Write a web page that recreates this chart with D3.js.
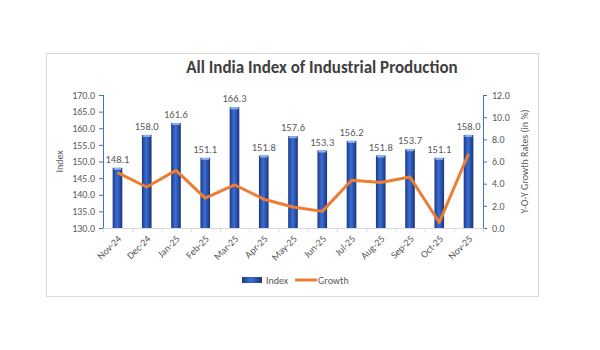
<!DOCTYPE html>
<html>
<head>
<meta charset="utf-8">
<script src="https://cdn.jsdelivr.net/npm/d3@7"></script>
<style>
  body { margin: 0; background: #fff; }
  text { font-family: Calibri, Carlito, "Open Sans", sans-serif; }
</style>
</head>
<body>
<script>
var months = ["Nov-24","Dec-24","Jan-25","Feb-25","Mar-25","Apr-25","May-25","Jun-25","Jul-25","Aug-25","Sep-25","Oct-25","Nov-25"];
var indexValues = [148.1,158.0,161.6,151.1,166.3,151.8,157.6,153.3,156.2,151.8,153.7,151.1,158.0];
var growthValues = [5.0,3.7,5.2,2.7,3.9,2.6,1.9,1.5,4.3,4.1,4.6,0.5,6.7];
var leftTicks = [130,135,140,145,150,155,160,165,170];
var rightTicks = [0,2,4,6,8,10,12];

var W = 600, H = 350;
var margin = {top: 95, right: 117, bottom: 122, left: 103};
var width = W - margin.left - margin.right,
    height = H - margin.top - margin.bottom;

var svg = d3.select("body").append("svg")
  .attr("width", W).attr("height", H);

// chart frame
svg.append("rect")
  .attr("x", 46.5).attr("y", 53.5).attr("width", 492).attr("height", 243)
  .attr("fill", "#fff").attr("stroke", "#d9d9d9");

var defs = svg.append("defs");
var grad = defs.append("linearGradient").attr("id", "barGrad")
  .attr("x1", "0%").attr("x2", "100%").attr("y1", "0%").attr("y2", "0%");
grad.append("stop").attr("offset", "0%").attr("stop-color", "#1c3a86");
grad.append("stop").attr("offset", "45%").attr("stop-color", "#3b6fd6");
grad.append("stop").attr("offset", "100%").attr("stop-color", "#1a3478");

svg.append("text")
  .attr("x", 322).attr("y", 73)
  .attr("text-anchor", "middle")
  .attr("font-size", 17).attr("font-weight", "bold")
  .attr("fill", "#404040")
  .text("All India Index of Industrial Production");

var g = svg.append("g").attr("transform", "translate(" + margin.left + "," + margin.top + ")");

var x = d3.scaleBand().domain(months).range([0, width]).paddingInner(0.67).paddingOuter(0.33);
var y = d3.scaleLinear().domain([130, 170]).range([height, 0]);
var y2 = d3.scaleLinear().domain([0, 12]).range([height, 0]);

// bars
g.selectAll(".bar").data(indexValues).enter().append("rect")
  .attr("class", "bar")
  .attr("x", function(d, i) { return x(months[i]); })
  .attr("y", function(d) { return y(d); })
  .attr("width", x.bandwidth())
  .attr("height", function(d) { return height - y(d); })
  .attr("fill", "url(#barGrad)");

// top highlight of bars
g.selectAll(".cap").data(indexValues).enter().append("rect")
  .attr("x", function(d, i) { return x(months[i]) + 1; })
  .attr("y", function(d) { return y(d); })
  .attr("width", x.bandwidth() - 2)
  .attr("height", 2)
  .attr("fill", "#8fb3f0");

// bar labels
g.selectAll(".lbl").data(indexValues).enter().append("text")
  .attr("x", function(d, i) { return x(months[i]) + x.bandwidth() / 2; })
  .attr("y", function(d) { return y(d) - 5; })
  .attr("text-anchor", "middle")
  .attr("font-size", 10.5)
  .attr("fill", "#595959")
  .text(function(d) { return d.toFixed(1); });

// growth line
var line = d3.line()
  .x(function(d, i) { return x(months[i]) + x.bandwidth() / 2; })
  .y(function(d) { return y2(d); });
g.append("path").datum(growthValues)
  .attr("d", line)
  .attr("fill", "none")
  .attr("stroke", "#ed7d31")
  .attr("stroke-width", 3)
  .attr("stroke-linejoin", "round");

// left axis
var yAxis = g.append("g")
  .call(d3.axisLeft(y).tickValues(leftTicks).tickSize(4).tickFormat(d3.format(".1f")));
yAxis.select(".domain").attr("stroke", "#4472c4").attr("d", "M0.5," + height + "V0");
yAxis.selectAll(".tick line").attr("stroke", "#4472c4");
yAxis.selectAll("text").attr("font-size", 10).attr("fill", "#595959").attr("x", -8);

// right axis
var yAxis2 = g.append("g").attr("transform", "translate(" + width + ",0)")
  .call(d3.axisRight(y2).tickValues(rightTicks).tickSize(4).tickFormat(d3.format(".1f")));
yAxis2.select(".domain").attr("stroke", "#4472c4").attr("d", "M0.5," + height + "V0");
yAxis2.selectAll(".tick line").attr("stroke", "#4472c4");
yAxis2.selectAll("text").attr("font-size", 10).attr("fill", "#595959").attr("x", 9);

// bottom axis
var xAxis = g.append("g").attr("transform", "translate(0," + height + ")")
  .call(d3.axisBottom(x).tickSize(0));
xAxis.select(".domain").attr("stroke", "#d9d9d9");
xAxis.selectAll("text")
  .attr("font-size", 10).attr("fill", "#595959")
  .attr("text-anchor", "end")
  .attr("dy", "0.35em")
  .attr("transform", "translate(2,9) rotate(-45)")
  .attr("y", 0).attr("x", 0);
// ticks between categories
var step = x.step();
xAxis.selectAll(".sep").data(d3.range(months.length + 1)).enter().append("line")
  .attr("x1", function(i) { return 0.5 + i * step; })
  .attr("x2", function(i) { return 0.5 + i * step; })
  .attr("y1", 0).attr("y2", 4)
  .attr("stroke", "#d9d9d9");

// axis titles
svg.append("text")
  .attr("transform", "translate(63," + (margin.top + height / 2) + ") rotate(-90)")
  .attr("text-anchor", "middle")
  .attr("font-size", 10).attr("fill", "#595959")
  .text("Index");
svg.append("text")
  .attr("transform", "translate(528," + (margin.top + height / 2) + ") rotate(-90)")
  .attr("text-anchor", "middle")
  .attr("font-size", 10).attr("fill", "#595959")
  .text("Y-O-Y Growth Rates (in %)");

// legend
var legend = svg.append("g").attr("transform", "translate(242,280)");
legend.append("rect").attr("x", 0).attr("y", -3).attr("width", 20).attr("height", 6)
  .attr("fill", "url(#barGrad)");
legend.append("text").attr("x", 24).attr("y", 3.5).attr("font-size", 10).attr("fill", "#595959").text("Index");
legend.append("line").attr("x1", 53).attr("x2", 75).attr("y1", 0).attr("y2", 0)
  .attr("stroke", "#ed7d31").attr("stroke-width", 3);
legend.append("text").attr("x", 76).attr("y", 3.5).attr("font-size", 10).attr("fill", "#595959").text("Growth");
</script>
</body>
</html>
